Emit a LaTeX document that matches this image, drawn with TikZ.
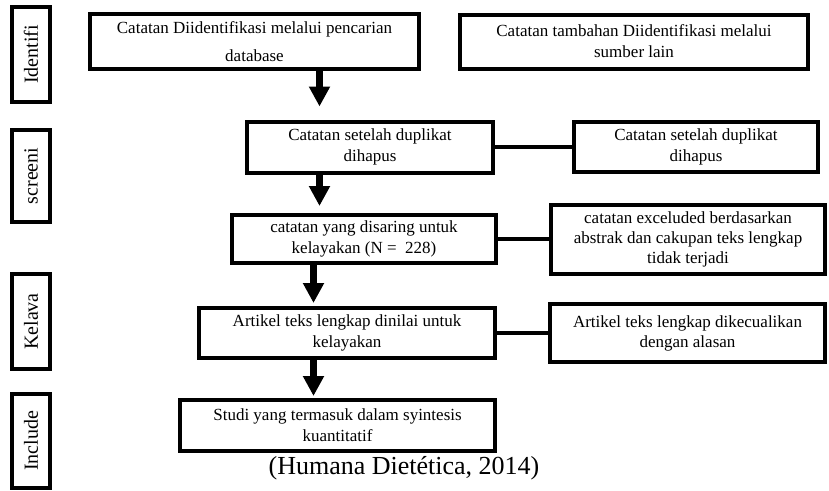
\documentclass[tikz,border=0pt]{standalone}
\usepackage{fontspec}
\setmainfont{Liberation Serif}
\usetikzlibrary{arrows.meta,positioning}

\begin{document}
\begin{tikzpicture}
[x=1pt,y=-1pt,node distance=326pt,>={Triangle[width=20pt,length=20pt]}, font=\fontsize{17}{21}\selectfont]
\tikzstyle{rec}=[rectangle, draw, line width=4pt, align=center, inner sep=2pt]
\tikzstyle{phase}=[rectangle, draw, line width=4pt, rotate=90, minimum height=38pt, inner sep=2pt, font=\fontsize{20}{24}\selectfont]
\tikzstyle{flow}=[->, line width=7pt]
\tikzstyle{link}=[line width=4pt]

\useasboundingbox (0,0) rectangle (829,490);

\node[phase, minimum width=95pt] (ph_id) at (31,54.5) {Identifi};
\node[phase, minimum width=92pt] (ph_scr) at (31,176) {screeni};
\node[phase, minimum width=95pt] (ph_kel) at (31,321.5) {Kelava};
\node[phase, minimum width=94pt] (ph_inc) at (31,441) {Include};

\node[rec, minimum width=329pt, minimum height=55pt, font=\fontsize{17}{28}\selectfont] (b_db) at (254.5,41.5) {Catatan Diidentifikasi melalui pencarian\\database};
\node[rec, minimum width=348pt, minimum height=54pt] (b_other) [right of = b_db, node distance = 379.5pt] {Catatan tambahan Diidentifikasi melalui\\sumber lain};

\node[rec, minimum width=246pt, minimum height=51pt] (b_dup) at (370,147) {Catatan setelah duplikat\\dihapus};
\node[rec, minimum width=244pt, minimum height=50pt] (b_dup2) [right of = b_dup] {Catatan setelah duplikat\\dihapus};

\node[rec, minimum width=264pt, minimum height=48pt] (b_scr) at (364,239) {catatan yang disaring untuk\\kelayakan (N = \ 228)};
\node[rec, minimum width=274pt, minimum height=69pt, font=\fontsize{17}{20}\selectfont] (b_excl) [right of = b_scr, node distance = 324pt] {catatan exceluded berdasarkan\\abstrak dan cakupan teks lengkap\\tidak terjadi};

\node[rec, minimum width=296pt, minimum height=50pt] (b_full) at (347,333) {Artikel teks lengkap dinilai untuk\\kelayakan};
\node[rec, minimum width=275pt, minimum height=58pt, font=\fontsize{17}{20}\selectfont] (b_fullx) [right of = b_full, node distance = 340.5pt] {Artikel teks lengkap dikecualikan\\dengan alasan};

\node[rec, minimum width=315pt, minimum height=51pt] (b_incl) at (337.5,425.5) {Studi yang termasuk dalam syintesis\\kuantitatif};

\node (src) at (404,468) [font=\fontsize{26}{30}\selectfont] {(Humana Dietética, 2014)};

\coordinate (col1) at (319.5,0);
\coordinate (col2) at (313.5,0);

\path[flow]
			(b_db.south -| col1) 	edge [shorten >=13pt] (b_dup.north -| col1)
			(b_dup.south -| col1) 	edge [shorten >=7pt] (b_scr.north -| col1)
			(b_scr.south -| col2) 	edge [shorten >=3pt] (b_full.north -| col2)
			(b_full.south -| col2) 	edge [shorten >=2pt] (b_incl.north -| col2)
			;
\path[link]
			(b_dup) 	edge (b_dup2)
			(b_scr) 	edge (b_excl)
			(b_full) 	edge (b_fullx)
			;
\end{tikzpicture}
\end{document}
